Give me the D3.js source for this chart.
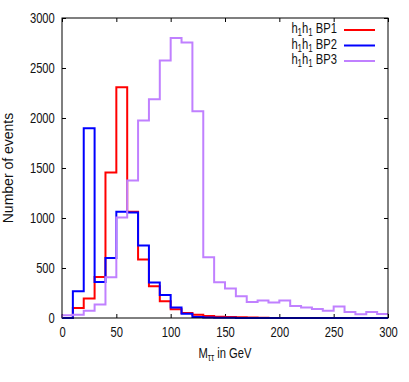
<!DOCTYPE html>
<html>
<head>
<meta charset="utf-8">
<script src="https://cdn.jsdelivr.net/npm/d3@7"></script>
<style>
  body { margin: 0; background: #fff; }
  text { font-family: "Liberation Sans", Arial, sans-serif; fill: #111; }
</style>
</head>
<body>
<svg class="chart" width="409" height="382"></svg>
<script>
// bin lower edges, 10 GeV wide
var binEdges = d3.range(0, 300, 10);

var bp1 = [0, 100, 194, 411, 1456, 2308, 1062, 585, 317, 167,
           87, 50, 33, 20, 13, 10, 8, 5, 2, 1,
           0, 0, 0, 0, 0, 0, 0, 0, 0, 0];
var bp2 = [0, 267, 1898, 361, 601, 1062, 1055, 725, 354, 230,
           104, 43, 10, 4, 3, 2, 1, 1, 0, 0,
           0, 0, 0, 0, 0, 0, 0, 0, 0, 0];
var bp3 = [27, 33, 73, 134, 408, 1005, 1376, 1974, 2188, 2576,
           2800, 2756, 2068, 608, 357, 294, 217, 160, 174, 154,
           174, 120, 104, 90, 73, 114, 60, 37, 60, 40];

var seriesNames = ["BP1", "BP2", "BP3"];
var seriesColors = ["#ff0000", "#0000ff", "#c080ff"];
var seriesValues = [bp1, bp2, bp3];

var xTicks = [0, 50, 100, 150, 200, 250, 300];
var yTicks = [0, 500, 1000, 1500, 2000, 2500, 3000];

var svg = d3.select(".chart"),
    width = +svg.attr("width"),
    height = +svg.attr("height");

var margin = {top: 18, right: 21, bottom: 64, left: 62};
var w = width - margin.left - margin.right,
    h = height - margin.top - margin.bottom;

var x = d3.scaleLinear().domain([0, 300]).range([margin.left, margin.left + w]);
var y = d3.scaleLinear().domain([0, 3000]).range([margin.top + h, margin.top]);

var fs = "14px";
var squeeze = "scale(0.8,1)";   // the original lettering is condensed

function styleAxis(g) {
  g.select(".domain").remove();
  g.selectAll("line").attr("stroke", "#000");
  g.selectAll("text").style("font-size", fs).attr("fill", "#111").attr("transform", squeeze);
}

// axes, ticks pointing inwards on all four sides
svg.append("g")
    .attr("transform", "translate(0," + (margin.top + h) + ")")
    .call(d3.axisBottom(x).tickValues(xTicks).tickFormat(d3.format("d")).tickSizeInner(-4).tickSizeOuter(0).tickPadding(9))
    .call(styleAxis);

svg.append("g")
    .attr("transform", "translate(" + margin.left + ",0)")
    .call(d3.axisLeft(y).tickValues(yTicks).tickFormat(d3.format("d")).tickSizeInner(-4).tickSizeOuter(0).tickPadding(9))
    .call(styleAxis);

svg.append("g")
    .attr("transform", "translate(0," + margin.top + ")")
    .call(d3.axisTop(x).tickValues(xTicks).tickSizeInner(-4).tickSizeOuter(0).tickFormat(""))
    .call(styleAxis);

svg.append("g")
    .attr("transform", "translate(" + (margin.left + w) + ",0)")
    .call(d3.axisRight(y).tickValues(yTicks).tickSizeInner(-4).tickSizeOuter(0).tickFormat(""))
    .call(styleAxis);

// histogram steps
var line = d3.line()
    .x(function(d) { return x(d[0]); })
    .y(function(d) { return y(d[1]); })
    .curve(d3.curveStepAfter);

seriesValues.forEach(function(vals, i) {
  var pts = binEdges.map(function(e, k) { return [e, vals[k]]; });
  pts.unshift([0, 0]);
  pts.push([300, vals[vals.length - 1]]);
  svg.append("path")
      .datum(pts)
      .attr("fill", "none")
      .attr("stroke", seriesColors[i])
      .attr("stroke-width", 2)
      .attr("d", line);
});

// frame
svg.append("rect")
    .attr("x", margin.left).attr("y", margin.top)
    .attr("width", w).attr("height", h)
    .attr("fill", "none").attr("stroke", "#000").attr("stroke-width", 1);

// legend
var legend = svg.append("g");
seriesNames.forEach(function(name, i) {
  var ly = 33 + i * 15.5;
  var t = legend.append("g")
      .attr("transform", "translate(337," + ly + ") " + squeeze)
    .append("text")
      .attr("text-anchor", "end")
      .style("font-size", fs);
  t.append("tspan").text("h");
  t.append("tspan").attr("dy", 3).style("font-size", "10px").text("1");
  t.append("tspan").attr("dy", -3).text("h");
  t.append("tspan").attr("dy", 3).style("font-size", "10px").text("1");
  t.append("tspan").attr("dy", -3).text(" " + name);
  legend.append("line")
      .attr("x1", 344).attr("x2", 375)
      .attr("y1", ly - 3).attr("y2", ly - 3)
      .attr("stroke", seriesColors[i]).attr("stroke-width", 2);
});

// axis titles
var xt = svg.append("g")
    .attr("transform", "translate(" + x(150) + ",358) " + squeeze)
  .append("text")
    .attr("text-anchor", "middle")
    .style("font-size", fs);
xt.append("tspan").text("M");
xt.append("tspan").attr("dy", 3).style("font-size", "10px").text("ττ");
xt.append("tspan").attr("dy", -3).text(" in GeV");

svg.append("text")
    .attr("transform", "translate(13," + y(1500) + ") rotate(-90)")
    .attr("text-anchor", "middle")
    .style("font-size", fs)
    .text("Number of events");
</script>
</body>
</html>
